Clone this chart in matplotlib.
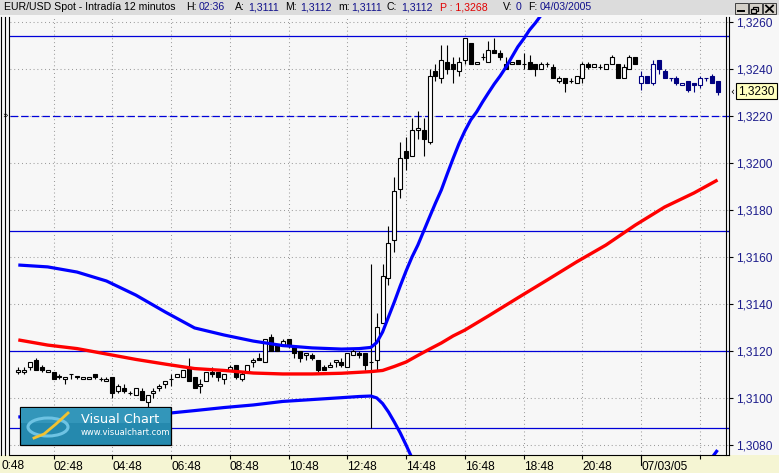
import matplotlib
matplotlib.use("Agg")
import matplotlib.pyplot as plt
import matplotlib.transforms as mtransforms
from matplotlib.patches import Rectangle, Ellipse
import numpy as np

# ---------------- data ----------------
opens = [1.3111, 1.3111, 1.3113, 1.3116, 1.3113, 1.3111, 1.3111, 1.3109, 1.3108, 1.3110,
         1.3109, 1.3108, 1.3108, 1.3110, 1.3108, 1.3107, 1.3109, 1.3103, 1.3104, 1.3102,
         1.3101, 1.3103, 1.3098, 1.3102, 1.3104, 1.3106, 1.3108, 1.3109, 1.3109, 1.3113,
         1.3109, 1.3105, 1.3107, 1.3111, 1.3111, 1.3108, 1.3112, 1.3114, 1.3108, 1.3111,
         1.3115, 1.3117, 1.3115, 1.3126, 1.3123, 1.3122, 1.3125, 1.3122, 1.3120, 1.3118,
         1.3118, 1.3116, 1.3113, 1.3113, 1.3115, 1.3115, 1.3113, 1.3118, 1.3119, 1.3119,
         1.3115, 1.3116, 1.3132, 1.3151, 1.3167, 1.3189, 1.3205, 1.3203, 1.3214, 1.3214,
         1.3209, 1.3239, 1.3236, 1.3243, 1.3242, 1.3239, 1.3244, 1.3251, 1.3242, 1.3245,
         1.3243, 1.3248, 1.3247, 1.3242, 1.3242, 1.3244, 1.3242, 1.3243, 1.3242, 1.3240,
         1.3242, 1.3241, 1.3235, 1.3236, 1.3235, 1.3234, 1.3236, 1.3242, 1.3241, 1.3241,
         1.3240, 1.3242, 1.3242, 1.3236, 1.3240, 1.3245, 1.3234, 1.3237, 1.3234, 1.3244,
         1.3239, 1.3236, 1.3236, 1.3233, 1.3235, 1.3234, 1.3233, 1.3236, 1.3237, 1.3235]
highs = [1.3113, 1.3113, 1.3115, 1.3117, 1.3114, 1.3112, 1.3111, 1.3110, 1.3109, 1.3110,
         1.3109, 1.3109, 1.3109, 1.3110, 1.3109, 1.3109, 1.3109, 1.3106, 1.3106, 1.3103,
         1.3104, 1.3104, 1.3101, 1.3104, 1.3106, 1.3107, 1.3110, 1.3110, 1.3112, 1.3117,
         1.3109, 1.3108, 1.3111, 1.3113, 1.3111, 1.3110, 1.3114, 1.3114, 1.3111, 1.3114,
         1.3117, 1.3119, 1.3125, 1.3127, 1.3123, 1.3125, 1.3125, 1.3122, 1.3120, 1.3119,
         1.3119, 1.3116, 1.3114, 1.3115, 1.3116, 1.3117, 1.3119, 1.3121, 1.3120, 1.3119,
         1.3157, 1.3136, 1.3157, 1.3173, 1.3194, 1.3209, 1.3211, 1.3219, 1.3222, 1.3219,
         1.3240, 1.3242, 1.3250, 1.3250, 1.3245, 1.3245, 1.3253, 1.3251, 1.3243, 1.3247,
         1.3252, 1.3253, 1.3248, 1.3245, 1.3243, 1.3244, 1.3247, 1.3246, 1.3242, 1.3243,
         1.3243, 1.3242, 1.3237, 1.3236, 1.3236, 1.3237, 1.3243, 1.3243, 1.3242, 1.3242,
         1.3242, 1.3246, 1.3242, 1.3242, 1.3246, 1.3245, 1.3239, 1.3237, 1.3244, 1.3244,
         1.3240, 1.3236, 1.3237, 1.3234, 1.3235, 1.3234, 1.3237, 1.3236, 1.3238, 1.3235]
lows = [1.3110, 1.3110, 1.3112, 1.3112, 1.3111, 1.3111, 1.3108, 1.3108, 1.3106, 1.3108,
        1.3108, 1.3108, 1.3108, 1.3108, 1.3107, 1.3107, 1.3100, 1.3102, 1.3102, 1.3101,
        1.3101, 1.3099, 1.3096, 1.3100, 1.3103, 1.3104, 1.3105, 1.3109, 1.3109, 1.3107,
        1.3104, 1.3102, 1.3107, 1.3109, 1.3107, 1.3106, 1.3112, 1.3108, 1.3107, 1.3111,
        1.3113, 1.3116, 1.3115, 1.3120, 1.3120, 1.3122, 1.3121, 1.3117, 1.3115, 1.3116,
        1.3116, 1.3111, 1.3112, 1.3113, 1.3113, 1.3113, 1.3113, 1.3118, 1.3117, 1.3112,
        1.3087, 1.3112, 1.3132, 1.3148, 1.3162, 1.3185, 1.3197, 1.3203, 1.3210, 1.3203,
        1.3208, 1.3235, 1.3234, 1.3238, 1.3234, 1.3237, 1.3242, 1.3242, 1.3242, 1.3244,
        1.3243, 1.3247, 1.3244, 1.3240, 1.3242, 1.3242, 1.3240, 1.3240, 1.3237, 1.3240,
        1.3241, 1.3236, 1.3234, 1.3230, 1.3234, 1.3234, 1.3234, 1.3240, 1.3241, 1.3240,
        1.3240, 1.3242, 1.3236, 1.3236, 1.3240, 1.3242, 1.3231, 1.3234, 1.3233, 1.3238,
        1.3236, 1.3235, 1.3233, 1.3233, 1.3230, 1.3230, 1.3232, 1.3235, 1.3234, 1.3229]
closes = [1.3112, 1.3112, 1.3115, 1.3112, 1.3112, 1.3112, 1.3108, 1.3109, 1.3109, 1.3110,
          1.3109, 1.3109, 1.3109, 1.3109, 1.3108, 1.3108, 1.3102, 1.3105, 1.3103, 1.3102,
          1.3104, 1.3099, 1.3101, 1.3103, 1.3105, 1.3107, 1.3108, 1.3110, 1.3112, 1.3107,
          1.3104, 1.3106, 1.3111, 1.3110, 1.3109, 1.3110, 1.3113, 1.3109, 1.3110, 1.3114,
          1.3116, 1.3116, 1.3125, 1.3120, 1.3120, 1.3124, 1.3122, 1.3119, 1.3117, 1.3119,
          1.3117, 1.3112, 1.3112, 1.3114, 1.3116, 1.3114, 1.3119, 1.3120, 1.3118, 1.3114,
          1.3115, 1.3130, 1.3152, 1.3166, 1.3188, 1.3202, 1.3202, 1.3214, 1.3215, 1.3210,
          1.3237, 1.3237, 1.3244, 1.3240, 1.3240, 1.3243, 1.3253, 1.3242, 1.3243, 1.3245,
          1.3248, 1.3247, 1.3245, 1.3240, 1.3243, 1.3242, 1.3242, 1.3240, 1.3240, 1.3242,
          1.3242, 1.3236, 1.3236, 1.3234, 1.3235, 1.3237, 1.3242, 1.3241, 1.3242, 1.3241,
          1.3242, 1.3245, 1.3236, 1.3241, 1.3245, 1.3242, 1.3237, 1.3234, 1.3242, 1.3240,
          1.3236, 1.3236, 1.3234, 1.3234, 1.3231, 1.3233, 1.3236, 1.3236, 1.3234, 1.3230]
monday_start = 106  # first bar of 07/03/05 (drawn in navy)

# Bollinger bands (bar index, price)
upper_bars = [0, 5, 10, 15, 20, 25, 30, 35, 40, 45, 50, 55, 58, 60, 61, 62, 63, 64, 65, 66,
              67, 68, 69, 70, 71, 72, 73, 74, 75, 76, 77, 78, 79, 80, 81, 82, 83, 84, 85, 86,
              87, 88, 89, 90]
upper_vals = [1.31565, 1.31557, 1.31535, 1.31497, 1.31437, 1.31365, 1.31297, 1.31267, 1.31241,
              1.31222, 1.31212, 1.31207, 1.31209, 1.31214, 1.31235, 1.31280, 1.31344, 1.31408,
              1.31476, 1.31540, 1.31599, 1.31650, 1.31710, 1.31770, 1.31829, 1.31885, 1.31953,
              1.32019, 1.32082, 1.32136, 1.32183, 1.32217, 1.32259, 1.32298, 1.32336, 1.32370,
              1.32408, 1.32451, 1.32494, 1.32528, 1.32566, 1.32596, 1.32630, 1.32660]
mid_bars = [0, 5, 10, 15, 20, 25, 30, 35, 40, 45, 50, 55, 60, 62, 64, 66, 68, 70, 72, 74,
            76, 78, 80, 85, 90, 95, 100, 105, 110, 115, 119]
mid_vals = [1.31246, 1.31224, 1.31209, 1.31186, 1.31163, 1.31143, 1.31124, 1.31116, 1.31105,
            1.31101, 1.31101, 1.31104, 1.31111, 1.31116, 1.31133, 1.31152, 1.31180, 1.31207,
            1.31233, 1.31263, 1.31288, 1.31318, 1.31348, 1.31425, 1.31501, 1.31578, 1.31650,
            1.31735, 1.31812, 1.31872, 1.31927]
lower_bars = [0, 5, 10, 15, 20, 25, 26, 30, 35, 40, 45, 50, 55, 58, 60, 61, 62, 63, 64, 65,
              66, 67, 68, 70, 95, 115, 118, 119]
lower_vals = [1.30918, 1.30920, 1.30922, 1.30924, 1.30926, 1.30933, 1.30935, 1.30945, 1.30958,
              1.30969, 1.30984, 1.30992, 1.31000, 1.31005, 1.31007, 1.30999, 1.30975, 1.30939,
              1.30896, 1.30850, 1.30798, 1.30743, 1.30692, 1.30586, 1.30479, 1.30650, 1.30743,
              1.30777]

# user-drawn horizontal levels
solid_levels = [1.3254, 1.3171, 1.3120, 1.3087]
dashed_levels = [1.3220]

price_ticks = [1.3080, 1.3100, 1.3120, 1.3140, 1.3160, 1.3180, 1.3200, 1.3220, 1.3240, 1.3260]
time_tick_bars = [6, 16, 26, 36, 46, 56, 66, 76, 86, 96, 106, 116]
time_tick_labels = ["02:48", "04:48", "06:48", "08:48", "10:48", "12:48", "14:48",
                    "16:48", "18:48", "20:48", "07/03/05", ""]
last_price = 1.3230

# header pieces: text, colour key, left x (pixels)
header_parts = [("EUR/USD Spot - Intradía 12 minutos", "k", 4), ("H:", "k", 186),
                ("02:36", "n", 199), ("A:", "k", 235), ("1,3111", "n", 248),
                ("M:", "k", 285), ("1,3112", "n", 300), ("m:", "k", 338),
                ("1,3111", "n", 351), ("C:", "k", 387), ("1,3112", "n", 401),
                ("P : 1,3268", "r", 440), ("V:", "k", 503), ("0", "n", 516),
                ("F:", "k", 528), ("04/03/2005", "n", 540)]

# ---------------- figure ----------------
W, H = 779, 473
fig = plt.figure(figsize=(W / 100, H / 100), dpi=100)
fig.patch.set_facecolor("#F7F7F7")
FONT = "Liberation Sans"
NAVY = "#1C1C8C"

bg = fig.add_axes([0, 0, 1, 1], zorder=0)
bg.set_xlim(0, W); bg.set_ylim(H, 0); bg.axis("off")
bg.add_patch(Rectangle((0, 0), W, 15, facecolor="#DCDCDC", edgecolor="none"))
bg.add_patch(Rectangle((0, 455), W, 18, facecolor="#F5F5D3", edgecolor="none"))

# main axes: pixel box x 10..729, y 17..455
L, R, T, B = 10, 729, 17, 455
ax = fig.add_axes([L / W, (H - B) / H, (R - L) / W, (B - T) / H], zorder=1)
ax.set_facecolor("#F7F7F7")
x0 = 18.3; dx = 5.876
ax.set_xlim((L - x0) / dx, (R - x0) / dx)
ppx = 23480.0
ax.set_ylim(1.3260 - (B - 22) / ppx, 1.3260 + (22 - T) / ppx)

for s in ["top", "left"]:
    ax.spines[s].set_visible(False)
ax.spines["bottom"].set_color("black"); ax.spines["bottom"].set_linewidth(0.8)
ax.spines["right"].set_color("black"); ax.spines["right"].set_linewidth(0.8)

# grid
for p in price_ticks:
    ax.axhline(p, color="#8A8A8A", lw=0.75, ls=(0, (0.8, 2.9)), zorder=1)
for b in time_tick_bars:
    ax.axvline(b, color="#8A8A8A", lw=0.75, ls=(0, (0.8, 2.9)), zorder=1)

# user levels
for p in solid_levels:
    ax.axhline(p, color="#0000D8", lw=0.9, zorder=2)
for p in dashed_levels:
    ax.axhline(p, color="#0000D8", lw=0.9, ls=(0, (6, 2.5)), zorder=2)

# candles
o = np.array(opens); h = np.array(highs); l = np.array(lows); c = np.array(closes)
xi = np.arange(len(o))
edge = ["#000080" if i >= monday_start else "black" for i in xi]
ax.vlines(xi, l, h, colors=edge, lw=0.8, zorder=4)
bottoms = np.minimum(o, c)
heights = np.maximum(np.abs(c - o), 0.000004)
faces = ["white" if c[i] > o[i] else edge[i] for i in xi]
ax.bar(xi, heights, bottom=bottoms, width=0.68, color=faces, edgecolor=edge,
       linewidth=0.8, zorder=5)

# bands
ax.plot(upper_bars, upper_vals, color="#0000FF", lw=2.3, zorder=6, solid_capstyle="butt")
ax.plot(lower_bars, lower_vals, color="#0000FF", lw=2.3, zorder=6, solid_capstyle="butt")
ax.plot(mid_bars, mid_vals, color="#FF0000", lw=2.4, zorder=6, solid_capstyle="butt")

# axes ticks
ax.yaxis.tick_right()
ax.set_yticks(price_ticks)
ax.set_yticklabels([f"{p:.4f}".replace(".", ",") for p in price_ticks])
ax.tick_params(axis="y", direction="out", length=3.2, width=0.8, pad=2.2,
               labelsize=8.6, labelcolor=NAVY, colors="black")
for t in ax.get_yticklabels():
    t.set_fontfamily(FONT); t.set_color(NAVY)
ax.set_yticks(solid_levels + dashed_levels, minor=True)
ax.tick_params(axis="y", which="minor", direction="in", length=2.2, width=0.8)

ax.set_xticks(time_tick_bars)
ax.set_xticklabels(time_tick_labels)
ax.tick_params(axis="x", direction="out", length=3, width=0.8, pad=1.2, labelsize=8.6,
               labelcolor="black")
for t in ax.get_xticklabels():
    t.set_ha("left"); t.set_fontfamily(FONT)
trans = mtransforms.blended_transform_factory(ax.transData, ax.transAxes)
ax.plot([time_tick_bars[10]] * 2, [0, -10 / (B - T)], color="black", lw=0.8,
        transform=trans, clip_on=False, zorder=7)

# ---------------- overlay decorations ----------------
ov = fig.add_axes([0, 0, 1, 1], zorder=10)
ov.set_xlim(0, W); ov.set_ylim(H, 0); ov.axis("off"); ov.patch.set_alpha(0)

# partially visible first time label (00:48)
ov.text(1, 466, "0:48", fontsize=8.6, family=FONT, va="center", ha="left")

# left strip
for xx in [0.5, 5.0, 9.5]:
    ov.plot([xx, xx], [17, 455], color="black", lw=0.8)
ov.text(4.8, 116, "»", fontsize=6.5, family="DejaVu Sans", color="black",
        ha="center", va="center")
# inner right axis line
ov.plot([726, 726], [17, 455], color="black", lw=0.8)

# header
cols = {"k": "black", "n": "#10108C", "r": "#E00000"}
for txt, col, xpos in header_parts:
    ov.text(xpos, 7.5, txt, fontsize=7.6, family=FONT, color=cols[col],
            va="center", ha="left")

# window buttons
for i, bx in enumerate([735, 749, 763]):
    ov.add_patch(Rectangle((bx, 3), 13, 11, facecolor="#D4D0C8", edgecolor="#404040", lw=0.7))
ov.plot([738, 744], [11.5, 11.5], color="black", lw=1.4)
ov.add_patch(Rectangle((753, 7), 5, 4.5, facecolor="none", edgecolor="black", lw=0.9))
ov.add_patch(Rectangle((751, 9), 5, 4, facecolor="#D4D0C8", edgecolor="black", lw=0.9))
ov.plot([766, 773], [5.5, 12], color="black", lw=1.3)
ov.plot([766, 773], [12, 5.5], color="black", lw=1.3)

# last price label
ov.add_patch(Rectangle((736, 83.5), 41, 16, facecolor="#FFFFC0", edgecolor="black", lw=0.8))
ov.text(756.5, 91.8, f"{last_price:.4f}".replace(".", ","), fontsize=8.6, family=FONT,
        color="black", ha="center", va="center")
ov.text(732.5, 91.5, "‹", fontsize=7, family="DejaVu Sans", color="black",
        ha="center", va="center")

# logo
ov.add_patch(Rectangle((20, 407), 151, 38, facecolor="#2589AE", edgecolor="black", lw=0.9))
ov.add_patch(Rectangle((21, 408), 149, 15, facecolor="#3396BA", edgecolor="none"))
ov.add_patch(Ellipse((48, 427), 40, 18, facecolor="none", edgecolor="#6EC3E3", lw=2.2))
ov.plot([34, 44, 56, 68], [438, 434, 424, 413], color="#F2C230", lw=2.0)
ov.text(81, 419, "Visual Chart", fontsize=9.3, family="DejaVu Sans", color="white",
        ha="left", va="center")
ov.text(81, 432.5, "www.visualchart.com", fontsize=6.0, family="DejaVu Sans",
        color="white", ha="left", va="center")

fig.savefig("out.png", dpi=100, facecolor=fig.get_facecolor())
